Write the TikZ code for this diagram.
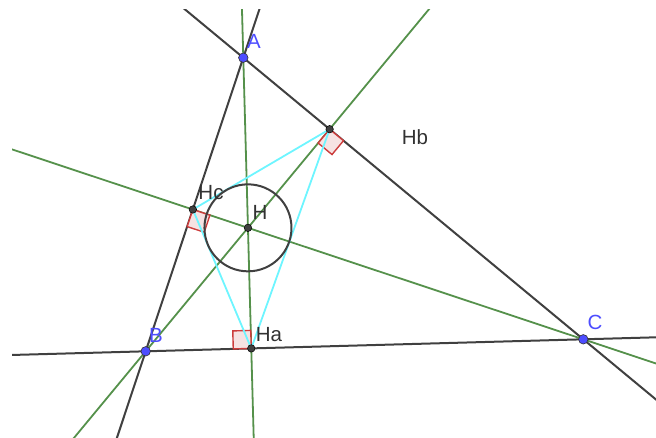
\documentclass[tikz,border=0pt]{standalone}
\usepackage{fontspec}
\setmainfont{Liberation Sans}
\usetikzlibrary{calc}
\definecolor{sidegray}{RGB}{64,64,64}
\definecolor{altgreen}{RGB}{85,145,75}
\definecolor{orthcyan}{RGB}{110,245,255}
\definecolor{ptblue}{RGB}{77,77,255}
\definecolor{markred}{RGB}{204,60,60}
\definecolor{markfill}{RGB}{246,226,226}
\definecolor{txtgray}{RGB}{50,50,50}
\begin{document}
\begin{tikzpicture}[x=1pt,y=-1pt,
  sideline/.style={draw=sidegray,line width=2pt},
  altline/.style={draw=altgreen,line width=1.8pt},
  orthline/.style={draw=orthcyan,line width=1.8pt},
  circline/.style={draw=sidegray,line width=2pt},
  ramark/.style={draw=markred,line width=1.4pt,fill=markfill},
  bluept/.style={circle,fill=ptblue,draw=black!80,line width=0.6pt,inner sep=0pt,minimum size=9.5pt},
  darkpt/.style={circle,fill=black!75,draw=black,line width=0.5pt,inner sep=0pt,minimum size=7.5pt},
  bluelbl/.style={text=ptblue,inner sep=0pt,font=\fontsize{20.5}{24}\selectfont},
  graylbl/.style={text=txtgray,inner sep=0pt,font=\fontsize{20.5}{24}\selectfont}]
\useasboundingbox (0,0) rectangle (656,437);
% vertices
\coordinate (A) at (243.3,57.7);
\coordinate (B) at (145.7,351.3);
\coordinate (C) at (583.3,339.3);
% feet of altitudes
\coordinate (Ha) at ($(B)!(A)!(C)$);
\coordinate (Hb) at ($(A)!(B)!(C)$);
\coordinate (Hc) at ($(A)!(C)!(B)$);
\coordinate (H) at (intersection of A--Ha and B--Hb);
% extended lines, clipped
\begin{scope}
\clip (12,9) rectangle (656,437);
\draw[sideline] ($(A)!-4!(B)$) -- ($(B)!-4!(A)$);
\draw[sideline] ($(A)!-4!(C)$) -- ($(C)!-4!(A)$);
\draw[sideline] ($(B)!-4!(C)$) -- ($(C)!-4!(B)$);
\draw[altline] ($(A)!-4!(Ha)$) -- ($(Ha)!-4!(A)$);
\draw[altline] ($(B)!-4!(Hb)$) -- ($(Hb)!-4!(B)$);
\draw[altline] ($(C)!-4!(Hc)$) -- ($(Hc)!-4!(C)$);
\end{scope}
% right-angle marks
\path coordinate (ma1) at ($(Ha)!18pt!(B)$) coordinate (ma2) at ($(Ha)!18pt!(A)$)
      coordinate (mb1) at ($(Hb)!18pt!(B)$) coordinate (mb2) at ($(Hb)!18pt!(C)$)
      coordinate (mc1) at ($(Hc)!18pt!(B)$) coordinate (mc2) at ($(Hc)!18pt!(C)$);
\draw[ramark] (Ha) -- (ma1) -- ($(ma1)+(ma2)-(Ha)$) -- (ma2) -- cycle;
\draw[ramark] (Hb) -- (mb1) -- ($(mb1)+(mb2)-(Hb)$) -- (mb2) -- cycle;
\draw[ramark] (Hc) -- (mc1) -- ($(mc1)+(mc2)-(Hc)$) -- (mc2) -- cycle;
% orthic triangle
\draw[orthline] (Ha) -- (Hb) -- (Hc) -- cycle;
% circle around H
\draw[circline] (H) circle[radius=43.5];
% points
\node[bluept] (pA) at (A) {};
\node[bluept] (pB) at (B) {};
\node[bluept] (pC) at (C) {};
\node[darkpt] (pHa) at (Ha) {};
\node[darkpt] (pHb) at (Hb) {};
\node[darkpt] (pHc) at (Hc) {};
\node[darkpt] (pH) at (H) {};
% labels
\node[bluelbl] (lA) at (254,41) {A};
\node[bluelbl] (lB) at (156,335) {B};
\node[bluelbl] (lC) at (595,322) {C};
\node[graylbl] (lHa) at (269,335) {Ha};
\node[graylbl] (lHb) at (415,137) {Hb};
\node[graylbl] (lHc) at (211,193) {Hc};
\node[graylbl] (lH) at (260,212) {H};
\end{tikzpicture}
\end{document}
